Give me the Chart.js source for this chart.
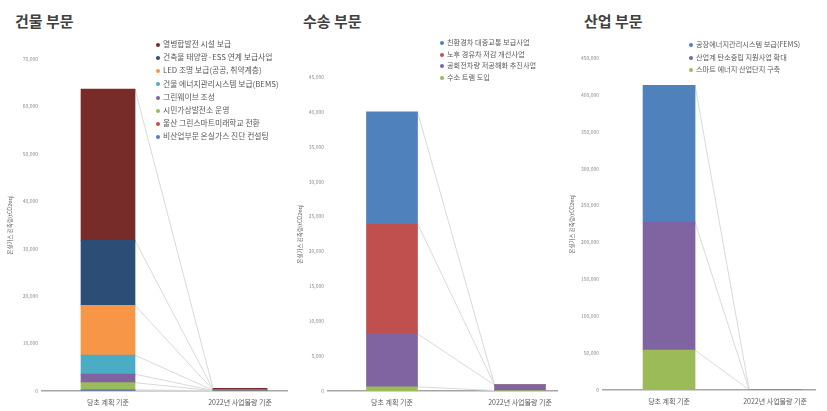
<!DOCTYPE html>
<html>
<head>
<meta charset="utf-8">
<script src="https://cdn.jsdelivr.net/npm/chart.js@4.4.0/dist/chart.umd.min.js"></script>
<style>
  body { margin: 0; background: #fff; width: 827px; height: 411px; overflow: hidden; position: relative;
         font-family: "Noto Sans CJK KR", "Noto Sans", sans-serif; }
  canvas { position: absolute; top: 0; }
  .title { position: absolute; top: 10px; font-size: 15px; font-weight: bold; color: #404040; white-space: nowrap; }
  .legend { position: absolute; color: #595959; white-space: nowrap; }
  .legend .dot { display: inline-block; width: 4px; height: 4px; border-radius: 50%; margin-right: 3px; vertical-align: middle; }
</style>
</head>
<body>
<div class="title" style="left:15px">건물 부문</div>
<div class="title" style="left:303px">수송 부문</div>
<div class="title" style="left:584px">산업 부문</div>

<canvas id="bld" width="300" height="411" style="left:0px"></canvas>
<canvas id="trn" width="285" height="411" style="left:290px"></canvas>
<canvas id="ind" width="265" height="411" style="left:562px"></canvas>

<div id="bldLegend" class="legend" style="left:156px;top:37px;font-size:7.8px;line-height:13.2px"></div>
<div id="trnLegend" class="legend" style="left:440px;top:37px;font-size:7.2px;line-height:11.5px"></div>
<div id="indLegend" class="legend" style="left:689px;top:38px;font-size:7.2px;line-height:12.5px"></div>

<script>
// categories on the x axis
var categories = ['당초 계획 기준', '2022년 사업물량 기준'];
var yTitle = '온실가스 감축량(tCO2eq)';

// 건물 부문 (stack order, bottom -> top)
var bldNames = ['비산업부문 온실가스 진단 컨설팅', '울산 그린스마트미래학교 전환', '시민가상발전소 운영',
    '그린웨이브 조성', '건물 에너지관리시스템 보급(BEMS)', 'LED 조명 보급(공공, 취약계층)',
    '건축물 태양광·ESS 연계 보급사업', '열병합발전 시설 보급'];
var bldPlan = [100, 150, 1500, 1800, 4000, 10500, 13700, 31900];
var bld2022 = [20, 30, 20, 30, 50, 80, 100, 250];
var bldColors = ['#4F81BD', '#C0504D', '#9BBB59', '#8064A2', '#4BACC6', '#F79646', '#2C4D75', '#772C2A'];

// 수송 부문
var trnNames = ['수소 트램 도입', '공회전차량 저공해화 추진사업', '노후 경유차 저감 개선사업', '친환경차 대중교통 보급사업'];
var trnPlan = [600, 7600, 15800, 16000];
var trn2022 = [60, 800, 20, 30];
var trnColors = ['#9BBB59', '#8064A2', '#C0504D', '#4F81BD'];

// 산업 부문
var indNames = ['스마트 에너지 산업단지 구축', '산업계 탄소중립 지원사업 확대', '공장에너지관리시스템 보급(FEMS)'];
var indPlan = [54000, 173500, 185500];
var ind2022 = [300, 300, 400];
var indColors = ['#9BBB59', '#8064A2', '#4F81BD'];

var fontFamily = '"Noto Sans CJK KR", "Noto Sans", sans-serif';

// excel style series lines between the two stacks
var seriesLines = {
    id: 'seriesLines',
    beforeDatasetsDraw: function (chart) {
        var ctx = chart.ctx;
        ctx.save();
        ctx.strokeStyle = '#d9d9d9';
        ctx.lineWidth = 1;
        chart.data.datasets.forEach(function (ds, i) {
            var bars = chart.getDatasetMeta(i).data;
            if (bars.length < 2) return;
            var a = bars[0], b = bars[1];
            ctx.beginPath();
            ctx.moveTo(a.x + a.width / 2, a.y);
            ctx.lineTo(b.x - b.width / 2, b.y);
            ctx.stroke();
        });
        ctx.restore();
    }
};

function buildLegend(chart, id) {
    var html = '';
    chart.data.datasets.slice().reverse().forEach(function (ds) {
        html += '<div><span class="dot" style="background:' + ds.backgroundColor + '"></span>' + ds.label + '</div>';
    });
    document.getElementById(id).innerHTML = html;
}

function makeChart(id, names, plan, now, colors, o) {
    var datasets = names.map(function (n, i) {
        return {
            label: n,
            data: [{x: 0, y: plan[i]}, {x: 1, y: now[i]}],
            backgroundColor: colors[i],
            barThickness: o.barW
        };
    });
    return new Chart(document.getElementById(id), {
        type: 'bar',
        data: {datasets: datasets},
        plugins: [seriesLines],
        options: {
            responsive: false,
            animation: false,
            layout: {padding: {left: o.padL, right: o.padR, top: o.top, bottom: 0}},
            plugins: {legend: {display: false}, tooltip: {enabled: false}},
            scales: {
                x: {
                    type: 'linear', stacked: true, offset: false, min: o.xMin, max: o.xMax,
                    afterBuildTicks: function (s) { s.ticks = categories.map(function (c, i) { return {value: i}; }); },
                    afterFit: function (s) { s.height = o.xH; },
                    grid: {display: false, drawTicks: false, offset: false},
                    border: {color: '#a6a6a6', width: 1.5},
                    ticks: {padding: 7, color: '#595959', autoSkip: false, maxRotation: 0,
                        font: {size: 7, family: fontFamily},
                        callback: function (v) { return categories[v]; }}
                },
                y: {
                    stacked: true, min: 0, max: o.yMax,
                    afterFit: function (s) { s.width = o.axisW; },
                    grid: {display: false, drawTicks: false},
                    border: {display: false},
                    ticks: {stepSize: o.step, padding: 4, color: '#8c8c8c',
                        font: {size: 5, family: fontFamily},
                        callback: function (v) { return v.toLocaleString('en-US'); }},
                    title: {display: true, text: yTitle, color: '#595959', padding: {top: 3, bottom: 0},
                        font: {size: 5.5, family: fontFamily}}
                }
            }
        }
    });
}

var bldChart = makeChart('bld', bldNames, bldPlan, bld2022, bldColors,
    {padL: 4, axisW: 38, padR: 13, top: 59, xH: 20, xMin: -0.5, xMax: 1.356, yMax: 70000, step: 10000, barW: 54});
var trnChart = makeChart('trn', trnNames, trnPlan, trn2022, trnColors,
    {padL: 4, axisW: 34, padR: 18, top: 77, xH: 20, xMin: -0.5, xMax: 1.289, yMax: 45000, step: 5000, barW: 51});
var indChart = makeChart('ind', indNames, indPlan, ind2022, indColors,
    {padL: 4, axisW: 37, padR: 12, top: 58, xH: 21, xMin: -0.623, xMax: 1.377, yMax: 450000, step: 50000, barW: 52});

buildLegend(bldChart, 'bldLegend');
buildLegend(trnChart, 'trnLegend');
buildLegend(indChart, 'indLegend');
</script>
</body>
</html>
